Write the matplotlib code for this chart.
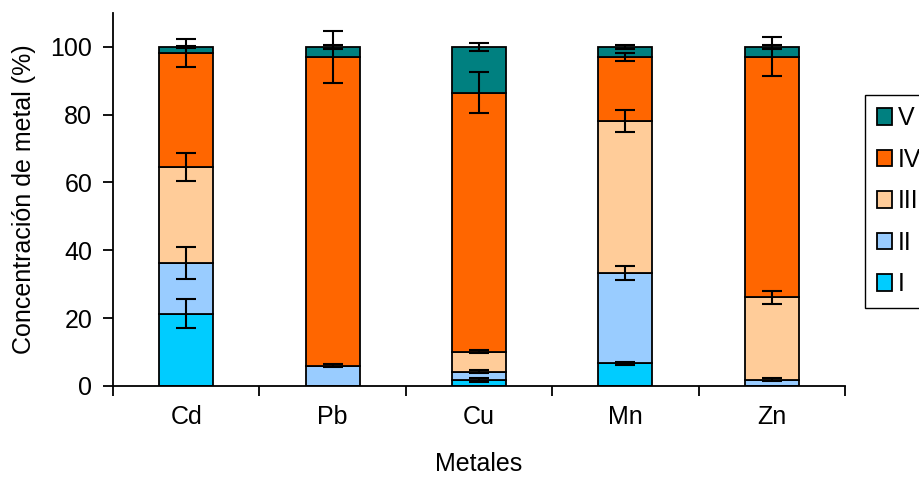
import numpy as np
import matplotlib.pyplot as plt

plt.rcParams['font.family'] = ['Liberation Sans', 'DejaVu Sans']

metales = ['Cd', 'Pb', 'Cu', 'Mn', 'Zn']
fracciones = ['I', 'II', 'III', 'IV', 'V']
colores = ['#00CCFF', '#99CCFF', '#FFCC99', '#FF6600', '#008080']

# porcentaje de cada fraccion (por metal)
frac_I = [21.3, 0.0, 1.8, 6.7, 0.0]
frac_II = [14.9, 6.0, 2.4, 26.5, 1.8]
frac_III = [28.4, 0.0, 5.9, 45.0, 24.4]
frac_IV = [33.7, 91.1, 76.4, 18.9, 70.9]
frac_V = [1.7, 2.9, 13.5, 2.9, 2.9]

# desviaciones (nan = sin barra de error)
err_I = [4.2, np.nan, 0.5, 0.4, np.nan]
err_II = [4.7, 0.5, 0.4, 2.1, 0.4]
err_III = [4.1, np.nan, 0.5, 3.3, 1.9]
err_IV = [4.1, 7.7, 6.0, 1.2, 5.8]
err_V = [0.3, 0.5, 1.2, 0.6, 0.6]

valores = [frac_I, frac_II, frac_III, frac_IV, frac_V]
errores = [err_I, err_II, err_III, err_IV, err_V]

fig = plt.figure(figsize=(9.2, 4.8), dpi=100)
ax = fig.add_axes([0.1228, 0.196, 0.7957, 0.777])

x = np.arange(len(metales))
base = np.zeros(len(metales))
barras = []
for i in range(len(fracciones)):
    v = np.array(valores[i])
    b = ax.bar(x, v, 0.37, bottom=base, color=colores[i], edgecolor='black',
               linewidth=1.3, label=fracciones[i], zorder=2)
    barras.append(b)
    base = base + v
    ax.errorbar(x, base, yerr=errores[i], fmt='none', ecolor='black',
                elinewidth=1.5, capsize=7, capthick=1.5, zorder=3)

ax.set_xlim(-0.5, len(metales) - 0.5)
ax.set_ylim(0, 110)
ax.set_yticks(range(0, 101, 20))
ax.set_xticks(x)
ax.set_xticklabels(metales)
ax.set_xticks(np.arange(-0.5, len(metales), 1), minor=True)
ax.tick_params(axis='x', which='major', length=0, pad=14, labelsize=18)
ax.tick_params(axis='x', which='minor', length=7, width=1.3, direction='out')
ax.tick_params(axis='y', length=7, width=1.3, pad=8, labelsize=18)

ax.spines['right'].set_visible(False)
ax.spines['top'].set_visible(False)
ax.spines['left'].set_linewidth(1.3)
ax.spines['bottom'].set_linewidth(1.3)

ax.set_xlabel('Metales', fontsize=18, labelpad=16)
ax.set_ylabel('Concentración de metal (%)', fontsize=18, labelpad=10)

# leyenda cortada en el borde derecho, igual que en el original
leg = fig.legend(barras[::-1], fracciones[::-1], loc='upper left',
                 bbox_to_anchor=(0.9405, 0.802), fontsize=18, frameon=True,
                 fancybox=False, edgecolor='black', framealpha=1,
                 handlelength=0.62, handleheight=0.62, handletextpad=0.22,
                 labelspacing=0.7, borderpad=0.45, borderaxespad=0)
leg.get_frame().set_linewidth(1.0)

fig.savefig('out.png', dpi=100)
